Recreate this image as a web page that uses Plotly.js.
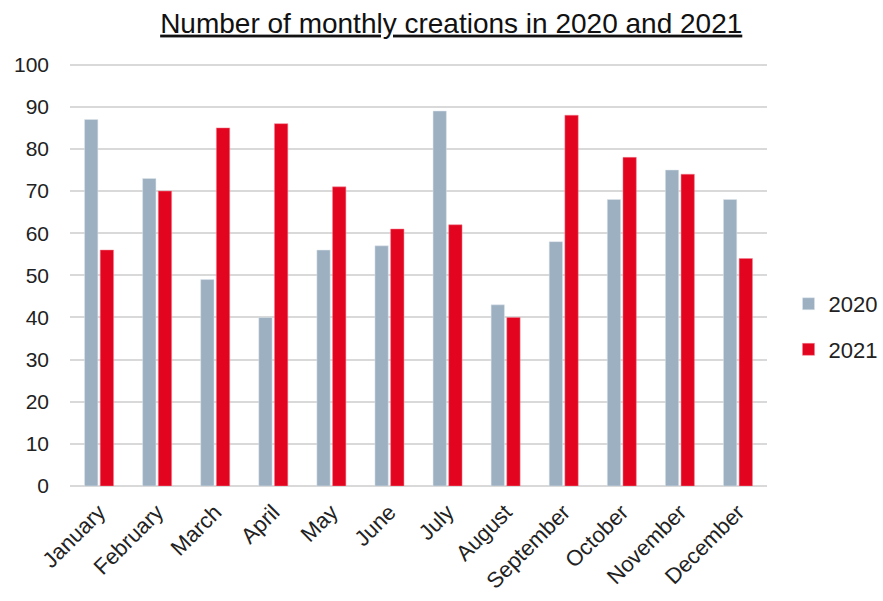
<!DOCTYPE html>
<html>
<head>
<meta charset="utf-8">
<script src="https://cdn.plot.ly/plotly-3.0.1.min.js"></script>
<style>html,body{margin:0;padding:0;background:#fff;}</style>
</head>
<body>
<div id="chart" style="width:883px;height:601px;"></div>
<script>
const months = ["January","February","March","April","May","June","July","August","September","October","November","December"];
const values2020 = [87, 73, 49, 40, 56, 57, 89, 43, 58, 68, 75, 68];
const values2021 = [56, 70, 85, 86, 71, 61, 62, 40, 88, 78, 74, 54];
const yTicks = [0,10,20,30,40,50,60,70,80,90,100];

const traces = [
  {type:"bar", name:"2020", x:months, y:values2020, legendgroup:"a",
   marker:{color:"#9DB0C1", line:{color:"#dfe6ec", width:0.5}}},
  {type:"bar", name:"2021", x:months, y:values2021, legendgroup:"b",
   marker:{color:"#E30520", line:{color:"#f08090", width:0.5}}}
];

const layout = {
  width:883, height:601,
  margin:{l:70, r:116, t:63, b:115, autoexpand:false},
  paper_bgcolor:"#fff", plot_bgcolor:"#fff",
  font:{family:"Liberation Sans, Arial, sans-serif", color:"#222", size:21},
  title:{text:"<u>Number of monthly creations in 2020 and 2021</u>", x:0.511, xanchor:"center", y:0.962, yanchor:"middle",
         font:{size:28, color:"#111"}},
  barmode:"group",
  bargap:0.46,
  bargroupgap:0.15,
  xaxis:{tickangle:-45, showgrid:false, showline:false, ticks:"", ticklabelstandoff:8, tickfont:{size:22, color:"#222"}, fixedrange:true},
  yaxis:{range:[0,100.4], tickvals:yTicks, showgrid:true, gridcolor:"#d9d9d9", gridwidth:2,
         zeroline:true, zerolinecolor:"#d9d9d9", zerolinewidth:2, showline:false, ticks:"",
         ticklabelstandoff:20, tickfont:{size:21, color:"#222"}},
  showlegend:true,
  legend:{xref:"container", yref:"container", x:0.893, xanchor:"left", y:0.456, yanchor:"middle",
          tracegroupgap:14, font:{size:22, color:"#222"}, itemwidth:30}
};
Plotly.newPlot("chart", traces, layout, {displayModeBar:false});
</script>
</body>
</html>
